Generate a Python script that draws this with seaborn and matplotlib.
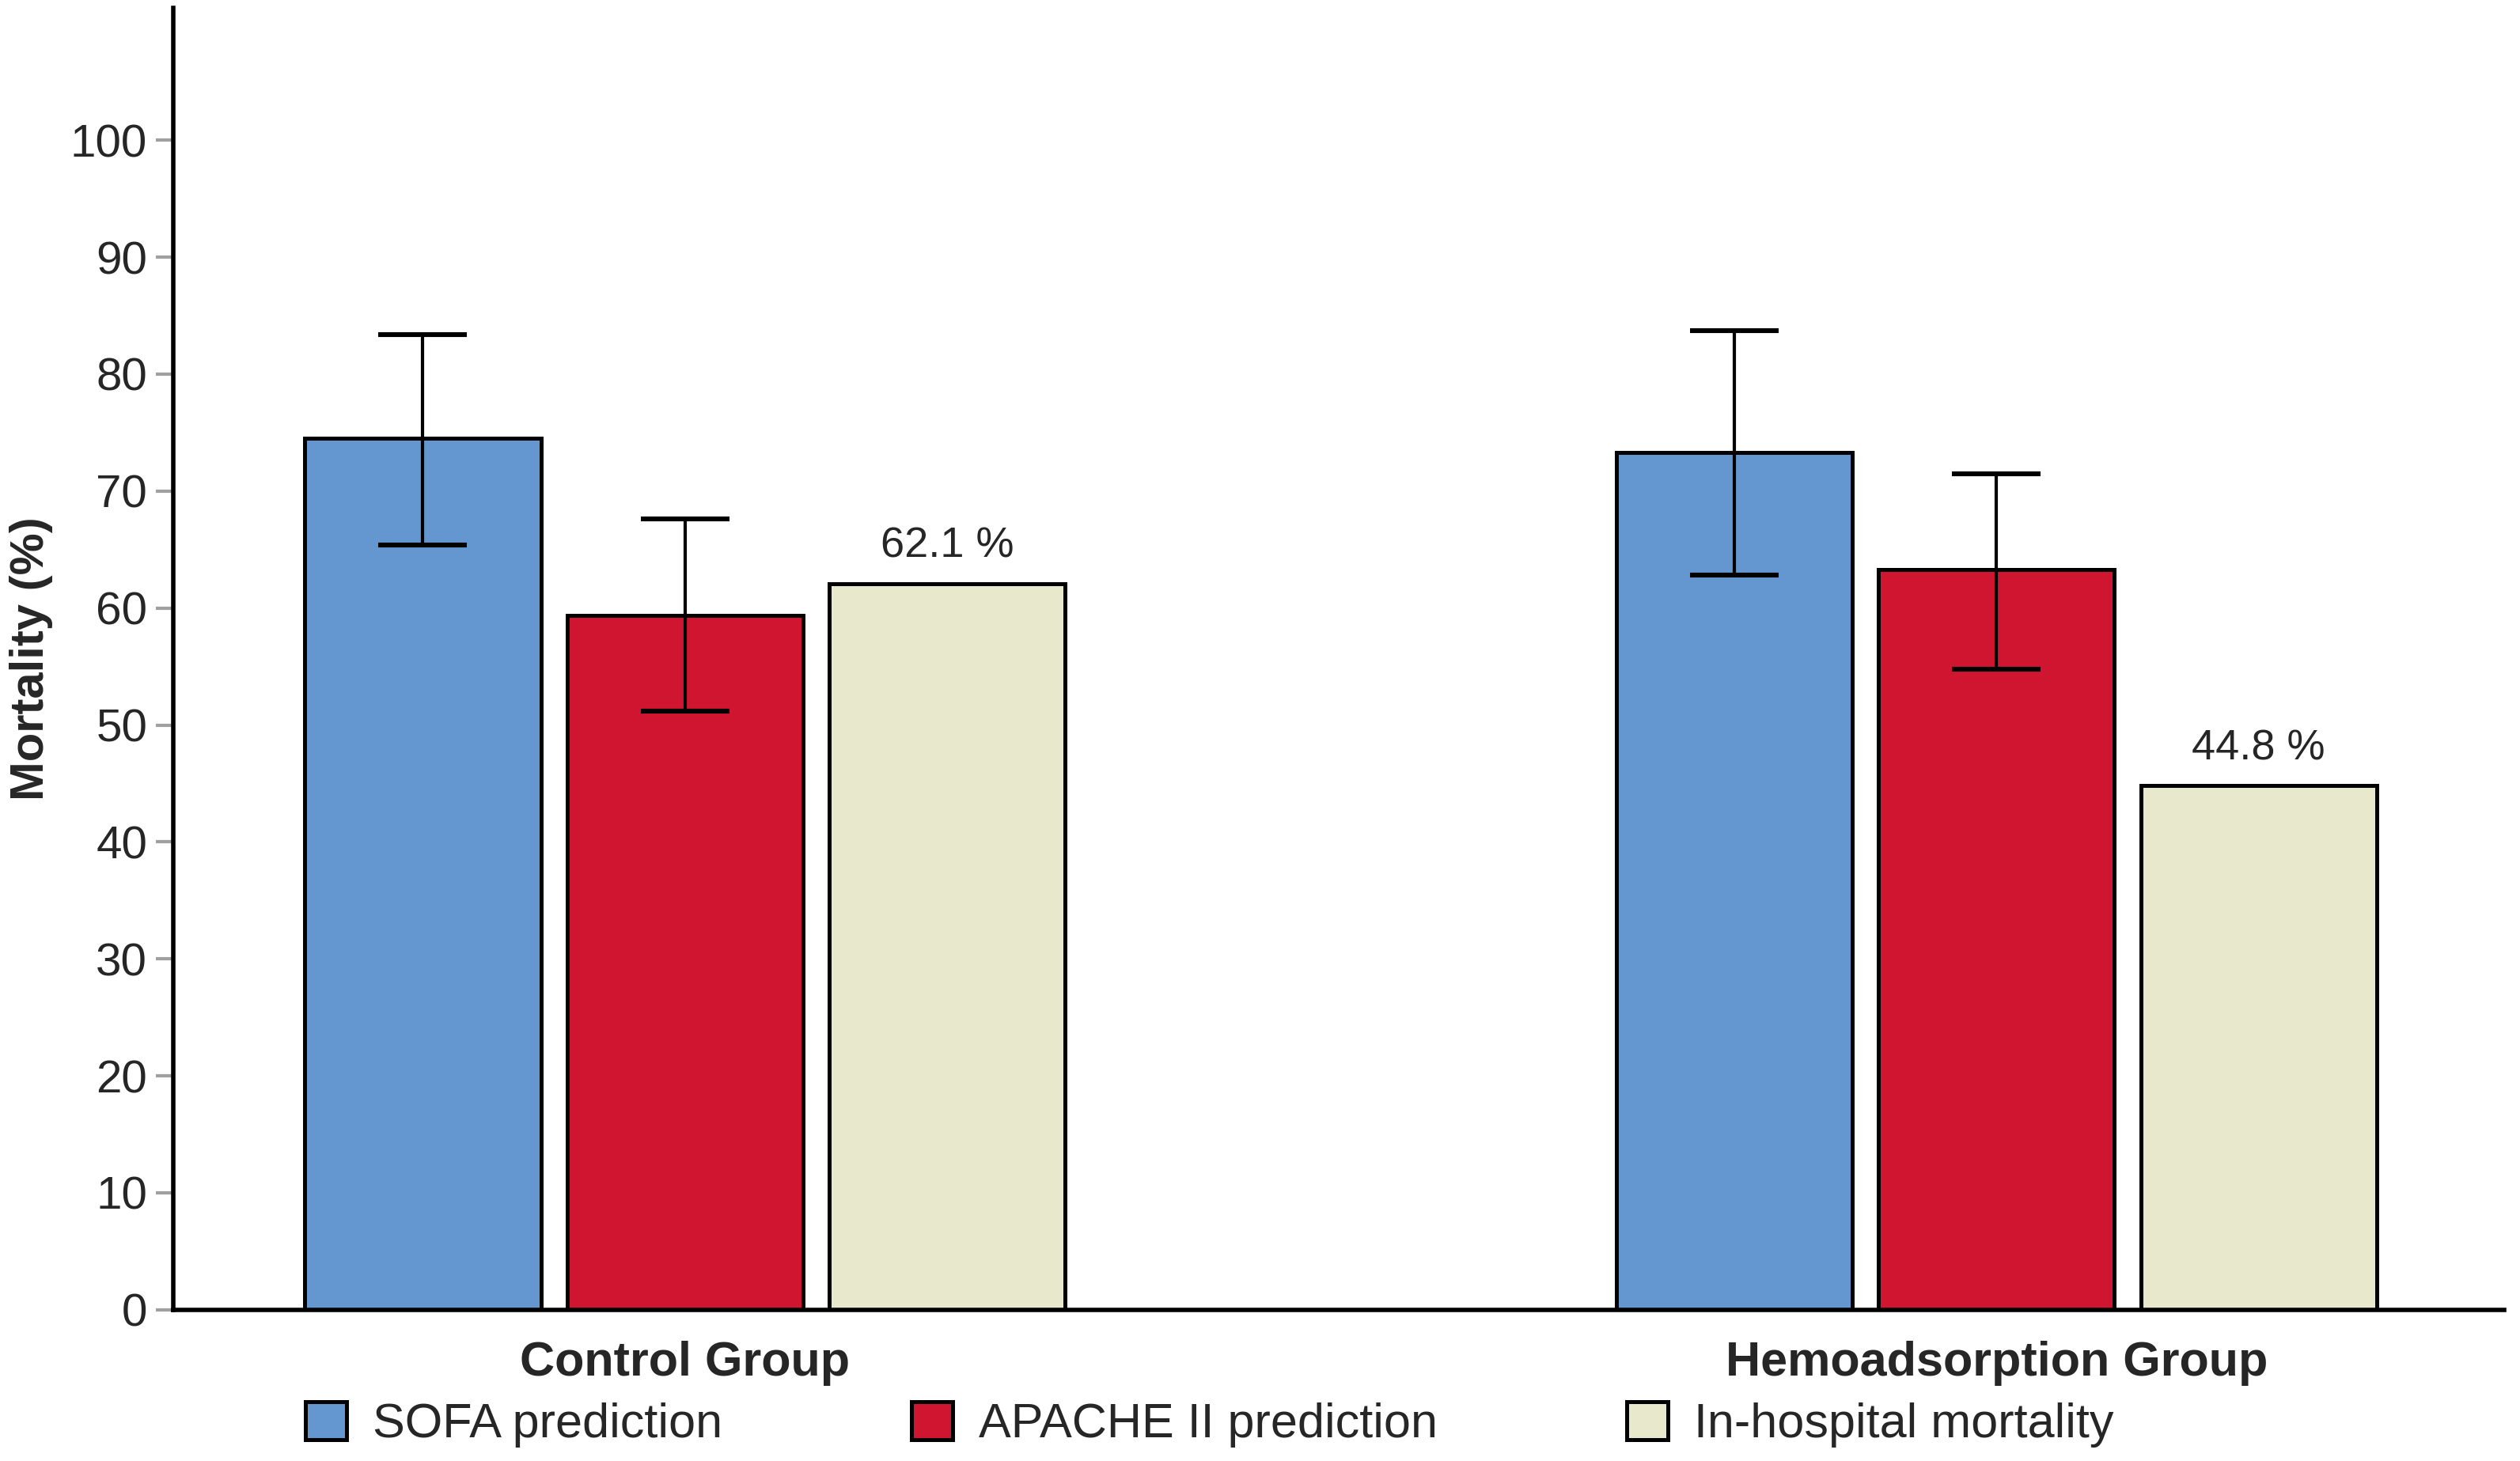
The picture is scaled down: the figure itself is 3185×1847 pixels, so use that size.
import numpy as np
import pandas as pd
import seaborn as sns
import matplotlib.pyplot as plt

# Values
groups = ['Control Group', 'Hemoadsorption Group']
measures = ['SOFA prediction', 'APACHE II prediction', 'In-hospital mortality']
sofa = [74.5, 73.3]
sofa_lo = [65.4, 62.8]
sofa_hi = [83.4, 83.7]
apache = [59.4, 63.3]
apache_lo = [51.2, 54.8]
apache_hi = [67.6, 71.5]
inhospital = [62.1, 44.8]

palette = ['#6497cf', '#cf152f', '#e8e8cd']

df = pd.DataFrame({
    'Group': groups * 3,
    'Measure': [m for m in measures for _ in groups],
    'Mortality': sofa + apache + inhospital,
})

sns.set_style('white')
plt.rcParams['font.family'] = ['Liberation Sans', 'DejaVu Sans']

fig = plt.figure(figsize=(15.925, 9.235), dpi=200)
ax = fig.add_axes([0.0689, 0.1035, 0.9247, 0.891])

sns.barplot(data=df, x='Group', y='Mortality', hue='Measure', order=groups,
            hue_order=measures, palette=palette, width=0.6, gap=0.1,
            errorbar=None, edgecolor='black', linewidth=1.8, saturation=1,
            ax=ax)

# error bars for the two prediction scores, label on observed mortality
lows = [sofa_lo, apache_lo]
highs = [sofa_hi, apache_hi]
bar_sets = list(ax.containers)
for k, cont in enumerate(bar_sets):
    for i, bar in enumerate(cont):
        xc = bar.get_x() + bar.get_width() / 2
        h = bar.get_height()
        if k < 2:
            ax.errorbar(xc, h, yerr=[[h - lows[k][i]], [highs[k][i] - h]],
                        fmt='none', ecolor='black', elinewidth=1.5,
                        capsize=20, capthick=2.2, zorder=5)
        else:
            ax.text(xc, h + 1.5, f'{h:.1f} %', ha='center', va='bottom',
                    fontsize=19.5)

ax.set_xlim(-0.39, 1.387)
ax.set_ylim(0, 111.3)
ax.set_yticks(np.arange(0, 101, 10))
ax.tick_params(axis='y', labelsize=21, length=8, width=1.5, color='#a0a0a0',
               pad=4, left=True)
ax.tick_params(axis='x', length=0, pad=14)
for lab in ax.get_xticklabels():
    lab.set_fontsize(22)
    lab.set_fontweight('bold')
ax.set_xlabel('')
ax.set_ylabel('Mortality (%)', fontsize=21.5, fontweight='bold', labelpad=8)

for s in ['top', 'right']:
    ax.spines[s].set_visible(False)
for s in ['left', 'bottom']:
    ax.spines[s].set_color('black')
    ax.spines[s].set_linewidth(2)

handles, labels = ax.get_legend_handles_labels()
ax.get_legend().remove()
fig.legend(handles, labels, loc='center', bbox_to_anchor=(0.48, 0.025),
           ncol=3, frameon=False, fontsize=22, handlelength=0.85,
           handleheight=0.85, handletextpad=0.55, columnspacing=3.9)

fig.savefig('out.png', dpi=200)
